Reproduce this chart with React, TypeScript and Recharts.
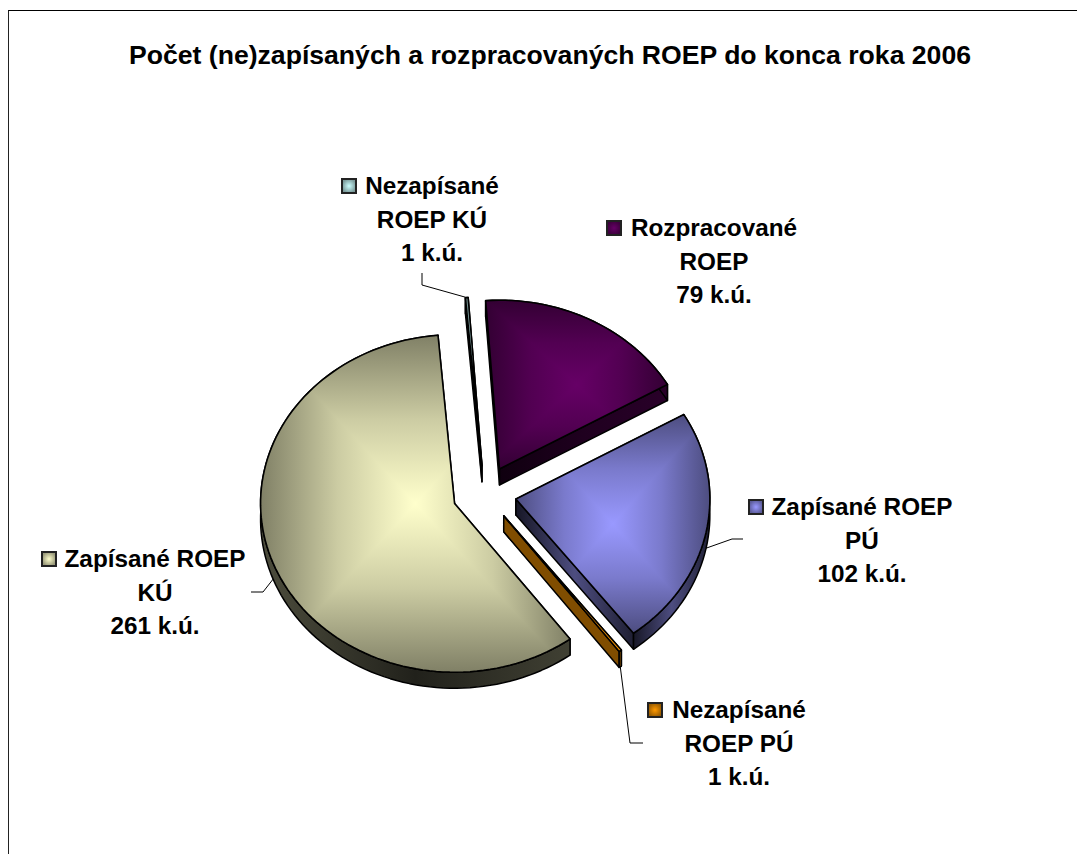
import { PieChart, Pie } from "recharts";

// Data
const categories = [
  "Nezapísané ROEP KÚ",
  "Rozpracované ROEP",
  "Zapísané ROEP PÚ",
  "Nezapísané ROEP PÚ",
  "Zapísané ROEP KÚ",
];
const parcels = [1, 79, 102, 1, 261];
const labelLines = [
  ["Nezapísané", "ROEP KÚ", "1 k.ú."],
  ["Rozpracované", "ROEP", "79 k.ú."],
  ["Zapísané ROEP", "PÚ", "102 k.ú."],
  ["Nezapísané", "ROEP PÚ", "1 k.ú."],
  ["Zapísané ROEP", "KÚ", "261 k.ú."],
];
const title = "Počet (ne)zapísaných a rozpracovaných ROEP do konca roka 2006";

// Styling
const sliceFills = ["#CCFFFF", "#660066", "#9999FF", "#FF9900", "#FFFFCC"];
const edgeShades = [0.5, 0.5, 0.5, 1, 0.5];
const wallShades = [
  [0.2, 0.4, 0.2],
  [0.15, 0.3, 0.4],
  [0.15, 0.5, 0.2],
  [0.5, 0.5, 0.5],
  [0.3, 0.13, 0.25],
];
const labelCenters = [432, 714, 862, 739, 155];
const labelBaselines = [194, 236, 515, 718, 567];
const keyLefts = [341, 606, 748, 647, 41];
const leaderElbows: (number[][] | null)[] = [
  [[422, 285], [422, 273]],
  null,
  [[732, 539], [743, 539]],
  [[630, 743], [643, 743]],
  [[263, 592], [251, 592]],
];

const FONT = '"Liberation Sans", Arial, sans-serif';
const TILT = 0.87; // pie is squashed vertically like Excel's 3D pie
const EXPLODE = 32;
const DEPTH = 16;
const RAD = Math.PI / 180;

const rows = categories.map((name, i) => ({ name, value: parcels[i], fill: sliceFills[i] }));

// darken a #rrggbb colour
function shade(hex: string, k: number) {
  const n = parseInt(hex.slice(1), 16);
  const c = [(n >> 16) & 255, (n >> 8) & 255, n & 255].map(v => Math.round(v * k));
  return `rgb(${c[0]},${c[1]},${c[2]})`;
}

// point on the squashed rim of an exploded slice
function rimPoint(cx: number, cy: number, r: number, mid: number, angle: number) {
  return [
    cx + EXPLODE * Math.cos(mid * RAD) + r * Math.cos(angle * RAD),
    cy - TILT * (EXPLODE * Math.sin(mid * RAD) + r * Math.sin(angle * RAD)),
  ];
}

function toPath(points: number[][]) {
  return "M" + points.map(p => `${p[0].toFixed(2)},${p[1].toFixed(2)}`).join("L") + "Z";
}

function Slice(props: any) {
  const { cx, cy, outerRadius, startAngle, endAngle, fill, name } = props;
  const i = categories.indexOf(name);
  const mid = (startAngle + endAngle) / 2;
  const apex = rimPoint(cx, cy, 0, mid, mid);
  const steps = Math.max(2, Math.ceil(Math.abs(endAngle - startAngle) / 2));
  const arc: number[][] = [];
  for (let s = 0; s <= steps; s++) {
    arc.push(rimPoint(cx, cy, outerRadius, mid, startAngle + ((endAngle - startAngle) * s) / steps));
  }
  const down = (p: number[]) => [p[0], p[1] + DEPTH];
  const top = [apex, ...arc];

  const xs = top.map(p => p[0]);
  const ys = top.map(p => p[1]);
  const x0 = Math.min(...xs);
  const x1 = Math.max(...xs);
  const y0 = Math.min(...ys);
  const y1 = Math.max(...ys);
  const mx = (x0 + x1) / 2;
  const my = (y0 + y1) / 2;

  // rectangular "from centre" gradient: one linear gradient per side of the bounding box
  const edgeK = edgeShades[i];
  const sides = [
    { id: "l", to: [x0, my], tri: [[mx, my], [x0, y0], [x0, y1]] },
    { id: "r", to: [x1, my], tri: [[mx, my], [x1, y0], [x1, y1]] },
    { id: "t", to: [mx, y0], tri: [[mx, my], [x0, y0], [x1, y0]] },
    { id: "b", to: [mx, y1], tri: [[mx, my], [x0, y1], [x1, y1]] },
  ];
  const walls = [
    [apex, arc[0], down(arc[0]), down(apex)],
    [apex, arc[arc.length - 1], down(arc[arc.length - 1]), down(apex)],
    [...arc, ...arc.map(down).reverse()],
  ];

  return (
    <g>
      <defs>
        <clipPath id={`clip${i}`}>
          <path d={toPath(top)} />
        </clipPath>
        <linearGradient id={`wall${i}`} x1="0" y1="0" x2="1" y2="0">
          <stop offset="0" stopColor={shade(fill, wallShades[i][0])} />
          <stop offset="0.5" stopColor={shade(fill, wallShades[i][1])} />
          <stop offset="1" stopColor={shade(fill, wallShades[i][2])} />
        </linearGradient>
        {sides.map(side => (
          <linearGradient
            key={side.id}
            id={`face${i}${side.id}`}
            gradientUnits="userSpaceOnUse"
            x1={mx}
            y1={my}
            x2={side.to[0]}
            y2={side.to[1]}
          >
            <stop offset="0" stopColor={fill} />
            <stop offset="0.5" stopColor={shade(fill, 1 - (1 - edgeK) * 0.4)} />
            <stop offset="1" stopColor={shade(fill, edgeK)} />
          </linearGradient>
        ))}
      </defs>
      {walls.map((w, k) => (
        <path key={k} d={toPath(w)} fill={`url(#wall${i})`} stroke="#000" strokeWidth={1.5} strokeLinejoin="round" />
      ))}
      <path d={toPath(top)} fill={fill} />
      <g clipPath={`url(#clip${i})`}>
        {sides.map(side => (
          <path key={side.id} d={toPath(side.tri)} fill={`url(#face${i}${side.id})`} shapeRendering="crispEdges" />
        ))}
      </g>
      <path d={toPath(top)} fill="none" stroke="#000" strokeWidth={1.6} strokeLinejoin="round" />
    </g>
  );
}

function SliceLabel(props: any) {
  const { cx, cy, outerRadius, midAngle, name } = props;
  const i = categories.indexOf(name);
  const lines = labelLines[i];
  const base = labelBaselines[i];
  const elbows = leaderElbows[i];
  const rim = rimPoint(cx, cy, outerRadius, midAngle, midAngle);
  if (Math.sin(midAngle * RAD) < 0) rim[1] += DEPTH; // leader starts under the wall on the front half
  return (
    <g>
      <defs>
        <radialGradient id={`key${i}`}>
          <stop offset="0" stopColor={sliceFills[i]} />
          <stop offset="1" stopColor={shade(sliceFills[i], 0.6)} />
        </radialGradient>
      </defs>
      {elbows && (
        <polyline
          points={[rim, ...elbows].map(p => p.join(",")).join(" ")}
          fill="none"
          stroke="#000"
          strokeWidth={1}
        />
      )}
      <rect x={keyLefts[i] + 1} y={base - 15} width={14} height={14} fill={`url(#key${i})`} stroke="#222" strokeWidth={2} />
      {lines.map((line, k) => (
        <text
          key={k}
          x={labelCenters[i]}
          y={base + k * 33.5}
          textAnchor="middle"
          fontFamily={FONT}
          fontWeight="bold"
          fontSize={24.3}
          fill="#000"
        >
          {line}
        </text>
      ))}
    </g>
  );
}

export default function App() {
  return (
    <div style={{ position: "absolute", left: 0, top: 0, width: 1077, height: 854, overflow: "hidden", background: "#fff" }}>
      <div
        style={{
          position: "absolute",
          left: 8,
          top: 10,
          width: 1069,
          height: 844,
          borderLeft: "1px solid #222",
          borderTop: "1px solid #000",
        }}
      />
      <div style={{ position: "absolute", left: 0, top: 0 }}>
        <PieChart width={1077} height={854} margin={{ top: 0, right: 0, bottom: 0, left: 0 }}>
          <text x={550} y={64} textAnchor="middle" fontFamily={FONT} fontWeight="bold" fontSize={26.6} fill="#000">
            {title}
          </text>
          <Pie
            data={rows}
            dataKey="value"
            nameKey="name"
            cx={484.5}
            cy={493.6}
            outerRadius={194}
            startAngle={94.9}
            endAngle={-265.1}
            stroke="none"
            shape={Slice}
            label={SliceLabel}
            labelLine={false}
            isAnimationActive={false}
          />
        </PieChart>
      </div>
    </div>
  );
}
